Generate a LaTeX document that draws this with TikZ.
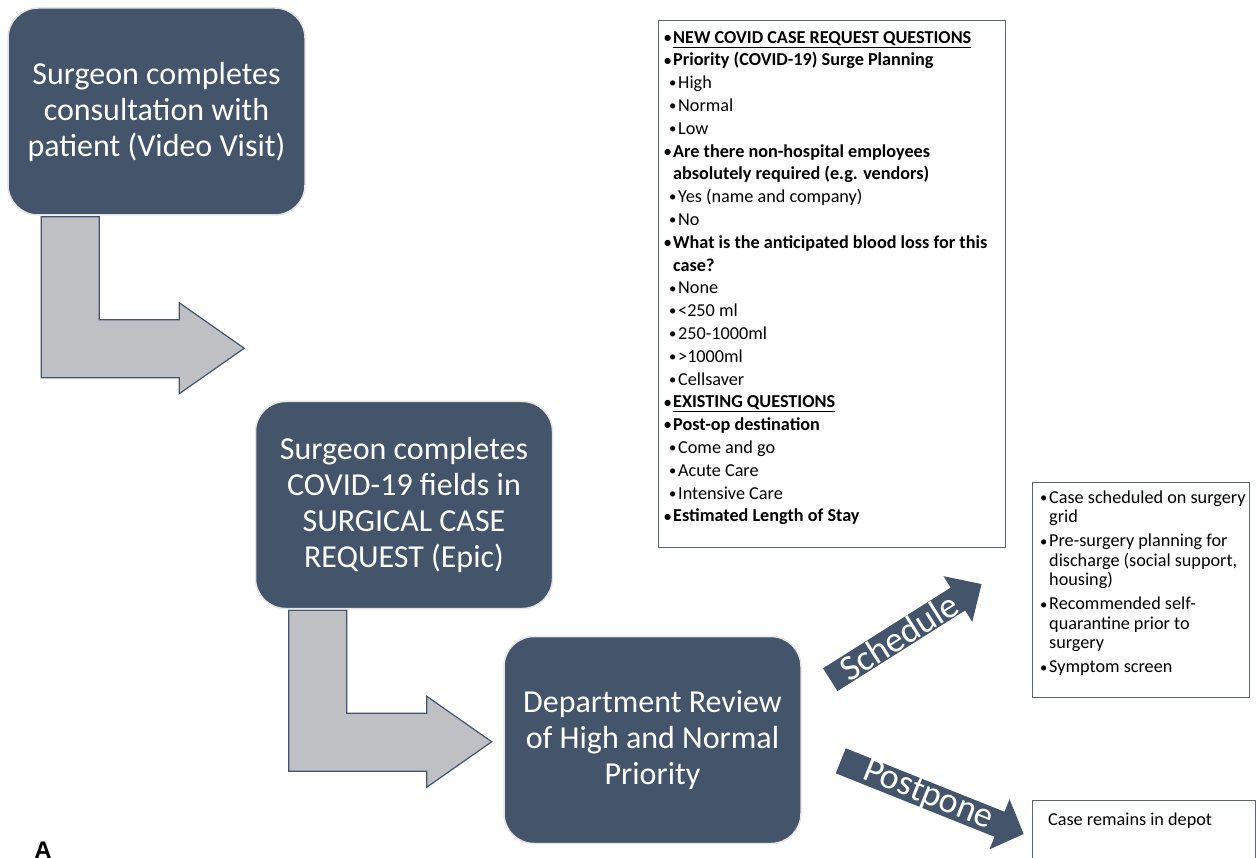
\documentclass[tikz,border=0pt]{standalone}
\usepackage{fontspec}
\setmainfont{Carlito}
\newfontfamily\panelfont{Liberation Sans}
\usetikzlibrary{calc, backgrounds}
\definecolor{slateBox}{HTML}{44546A}
\definecolor{arrowGrey}{HTML}{BFC0C4}
\definecolor{frameGrey}{HTML}{5B6573}
\newcommand{\dotmark}{\makebox[9pt][l]{\raisebox{0.8pt}{\scalebox{0.8}{\textbullet}}}}
\newcommand{\lvlone}[1]{\dotmark#1}
\newcommand{\lvltwo}[1]{\hspace*{5pt}\dotmark#1}
\newcommand{\wrapline}[1]{\hspace*{9pt}#1}
\tikzset{
	stepbox/.style={rectangle, rounded corners=30pt, fill=slateBox, draw=gray!20,
		line width=1.5pt, text=white, align=center, minimum width=297pt,
		minimum height=207pt, font=\fontsize{32}{36}\selectfont},
	listframe/.style={rectangle, draw=frameGrey, line width=1pt, inner sep=0pt, anchor=north west},
	listtext/.style={align=left, inner sep=0pt, font=\fontsize{18.2}{22.8}\selectfont},
	blockarrow/len/.store in=\arrowlen,
	blockarrow/head/.store in=\arrowhead,
	blockarrow/angle/.store in=\arrowangle,
	blockarrow/textpos/.store in=\arrowtextpos,
	blockarrow/label/.store in=\arrowlabel,
	% Set default values
	blockarrow/len=180, blockarrow/head=27, blockarrow/angle=0, blockarrow/textpos=90,
	% L-shaped grey arrow between two steps
	pics/bentarrow/.style={
		code={
			\path[draw=slateBox, line width=1.2pt, fill=arrowGrey]
				(0,0) -- (58,0) -- (58,103) -- (138,103) -- (138,86) -- (203,131.5)
				-- (138,177) -- (138,161) -- (0,161) -- cycle;
		}
	},
	% straight dark arrow with its label inside
	pics/blockarrow/.style={
		code={
			\tikzset{blockarrow/.cd, #1}
			\begin{scope}[rotate=\arrowangle]
				\path[fill=slateBox] (0,-13.5) -- ({\arrowlen-\arrowhead},-13.5)
					-- ({\arrowlen-\arrowhead},-27) -- (\arrowlen,0)
					-- ({\arrowlen-\arrowhead},27) -- ({\arrowlen-\arrowhead},13.5)
					-- (0,13.5) -- cycle;
				\node[rotate=\arrowangle, text=white, inner sep=0pt,
					font=\fontsize{36}{40}\selectfont] (-label) at (\arrowtextpos,0) {\arrowlabel};
			\end{scope}
		}
	}
}

\begin{document}
\begin{tikzpicture}[x=1pt, y=-1pt]
	\useasboundingbox (0,0) rectangle (1256,858);
	% steps
	\node[stepbox] (consult) at (156.5,111.5) {Surgeon completes\\consultation with\\patient (Video Visit)};
	\node[stepbox] (request) at (404,505) {Surgeon completes\\COVID-19 fields in\\SURGICAL CASE\\REQUEST (Epic)};
	\node[stepbox] (review) at (652.5,740) {Department Review\\of High and Normal\\Priority};
	% grey arrows under the steps
	\begin{pgfonlayer}{background}
		\pic at ($(consult.south west)+(34,1)$) {bentarrow};
		\pic at ($(request.south west)+(34,1)$) {bentarrow};
	\end{pgfonlayer}

	% questions in the case request
	\node[listframe, minimum width=347pt, minimum height=527pt] (questions) at (658,20) {};
	\node[listtext, anchor=north west] (questionlist) at ($(questions.north west)+(6,11)$) {%
		\textbf{\lvlone{\underline{NEW COVID CASE REQUEST QUESTIONS}}}\\
		\textbf{\lvlone{Priority (COVID-19) Surge Planning}}\\
		\lvltwo{High}\\
		\lvltwo{Normal}\\
		\lvltwo{Low}\\
		\textbf{\lvlone{Are there non-hospital employees}}\\
		\textbf{\wrapline{absolutely required (e.g. vendors)}}\\
		\lvltwo{Yes (name and company)}\\
		\lvltwo{No}\\
		\textbf{\lvlone{What is the anticipated blood loss for this}}\\
		\textbf{\wrapline{case?}}\\
		\lvltwo{None}\\
		\lvltwo{<250 ml}\\
		\lvltwo{250-1000ml}\\
		\lvltwo{>1000ml}\\
		\lvltwo{Cellsaver}\\
		\textbf{\lvlone{\underline{EXISTING QUESTIONS}}}\\
		\textbf{\lvlone{Post-op destination}}\\
		\lvltwo{Come and go}\\
		\lvltwo{Acute Care}\\
		\lvltwo{Intensive Care}\\
		\textbf{\lvlone{Estimated Length of Stay}}};

	% outcomes
	\node[listframe, minimum width=217pt, minimum height=215pt] (scheduled) at (1032,482) {};
	\node[listtext, anchor=north west, font=\fontsize{18.2}{19.5}\selectfont] (scheduledlist)
		at ($(scheduled.north west)+(8,8.5)$) {%
		\lvlone{Case scheduled on surgery}\\
		\wrapline{grid}\\[4.5pt]
		\lvlone{Pre-surgery planning for}\\
		\wrapline{discharge (social support,}\\
		\wrapline{housing)}\\[4.5pt]
		\lvlone{Recommended self-}\\
		\wrapline{quarantine prior to}\\
		\wrapline{surgery}\\[4.5pt]
		\lvlone{Symptom screen}};
	\node[listframe, minimum width=223pt, minimum height=80pt] (postponed) at (1032,800) {};
	\node[listtext, anchor=base west] (postponedtext) at ($(postponed.north west)+(16,25)$) {Case remains in depot};

	% decisions
	\pic (schedule) at ($(review.east)+(28.5,-60.3)$) {blockarrow={len=179, head=28, angle=32.3, textpos=81, label=Schedule}};
	\pic (postpone) at ($(review.east)+(39,20.8)$) {blockarrow={len=197, head=26, angle=-21.8, textpos=94, label=Postpone}};

	\node[font=\panelfont\bfseries\fontsize{24}{28}\selectfont, anchor=base] (panel) at (43,858) {A};
\end{tikzpicture}
\end{document}
